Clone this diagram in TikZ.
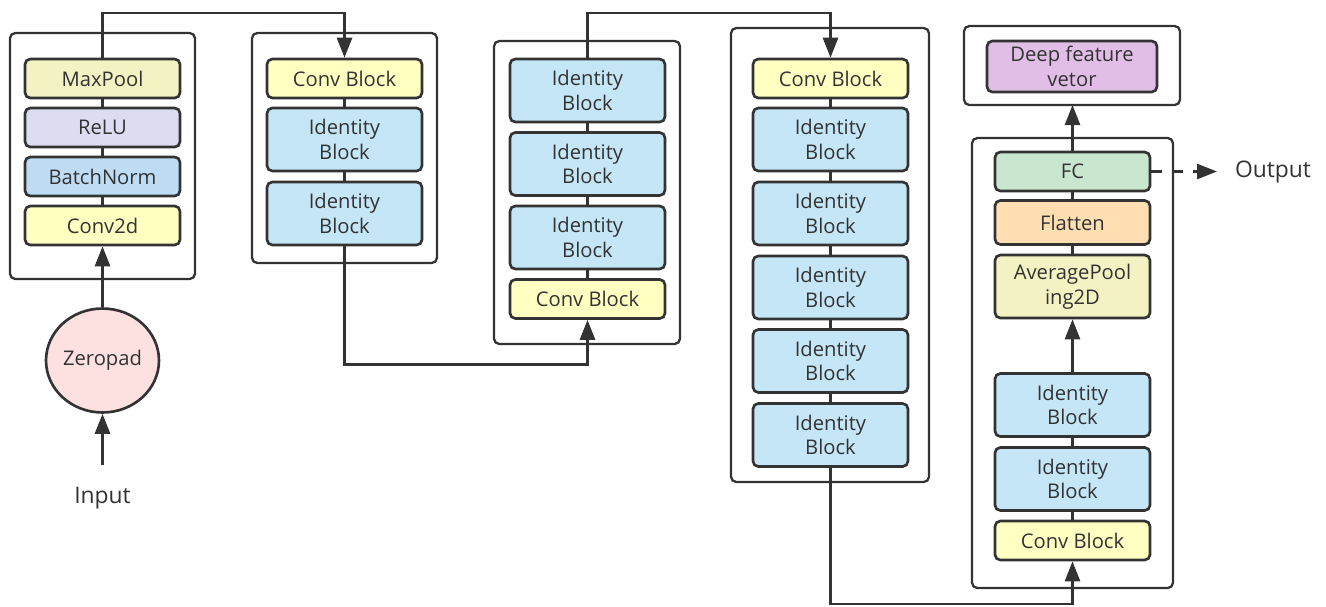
\documentclass[tikz,border=0pt]{standalone}
\usepackage{fontspec}
\setmainfont{Open Sans}
\usetikzlibrary{arrows.meta,shapes.geometric}
\definecolor{lc}{HTML}{333333}
\definecolor{cpool}{HTML}{F2F2C2}
\definecolor{crelu}{HTML}{DDDDF2}
\definecolor{cbn}{HTML}{BEDDF5}
\definecolor{cconv}{HTML}{FFFFC2}
\definecolor{cid}{HTML}{C4E6F6}
\definecolor{cfc}{HTML}{C9E7CE}
\definecolor{cflat}{HTML}{FFDFB2}
\definecolor{cdeep}{HTML}{E0BEE6}
\definecolor{czero}{HTML}{FDE0E0}
\tikzset{
    blk/.style={draw=lc, line width=1.5pt, rounded corners=3pt, minimum width=3.1cm,
        minimum height=0.78cm, align=center, text=lc, inner sep=1pt,
        font=\fontsize{11.5}{14}\selectfont},
    idb/.style={blk, fill=cid, minimum height=1.26cm},
    cvb/.style={blk, fill=cconv},
    grp/.style={draw=lc, line width=1.3pt, rounded corners=3pt},
    lnk/.style={draw=lc, line width=1.5pt},
    arr/.style={lnk, -{Triangle[length=0.4cm,width=0.3cm]}},
    lbl/.style={text=lc, font=\fontsize{13}{15}\selectfont}
}
\begin{document}
\begin{tikzpicture}[x=0.02cm, y=-0.02cm]
    \useasboundingbox (0,0) rectangle (1326,606);

    \foreach \xa/\ya/\xb/\yb in
        {10/33/195/279, 252/33/437/263, 494/41/680/344,
        731/28/929/482, 972/138/1173/588, 964/26/1180/105}
        {
            \draw[grp] (\xa,\ya) rectangle (\xb,\yb);
        }

    % stem
    \node[blk, fill=cpool] (mp) at (102.5,78.5) {MaxPool};
    \node[blk, fill=crelu] (relu) at (102.5,127.5) {ReLU};
    \node[blk, fill=cbn] (bn) at (102.5,176.5) {BatchNorm};
    \node[cvb] (c2d) at (102.5,225.5) {Conv2d};
    \node[ellipse, draw=lc, line width=1.5pt, fill=czero, inner sep=0pt,
        minimum width=2.26cm, minimum height=2.08cm, text=lc,
        font=\fontsize{11.5}{14}\selectfont]
        (zp) at (102.5,360.5) {Zeropad};
    \node[lbl] (inp) at (102.5,498) {Input};
    \coordinate (in0) at (102.5,465);

    % stages
    \node[cvb] (cb2) at (344.5,78.5) {Conv Block};
    \foreach \i/\y in {1/139.5, 2/213.5}
        \node[idb] (b\i) at (344.5,\y) {Identity\\Block};

    \foreach \i/\y in {1/90.5, 2/164, 3/237.5}
        \node[idb] (c\i) at (587.5,\y) {Identity\\Block};
    \node[cvb] (cb3) at (587.5,299) {Conv Block};

    \node[cvb] (cb4) at (830.5,78.5) {Conv Block};
    \foreach \i/\y in {1/139.5, 2/213.5, 3/287.5, 4/361, 5/435}
        \node[idb] (d\i) at (830.5,\y) {Identity\\Block};

    \node[blk, fill=cfc] (fc) at (1072.5,171.5) {FC};
    \node[blk, fill=cflat, minimum height=0.88cm] (flat) at (1072.5,222.5) {Flatten};
    \node[blk, fill=cpool, minimum height=1.26cm] (avg) at (1072.5,286.5) {AveragePool\\ing2D};
    \foreach \i/\y in {1/405, 2/479}
        \node[idb] (e\i) at (1072.5,\y) {Identity\\Block};
    \node[cvb] (cb5) at (1072.5,540.5) {Conv Block};

    \node[blk, fill=cdeep, minimum width=3.4cm, minimum height=1.02cm]
        (deep) at (1072,66.5) {Deep feature\\vetor};
    \node[lbl] (out) at (1273,171.5) {Output};

    % links
    \foreach \a/\b in {mp/relu, relu/bn, bn/c2d, cb2/b1, b1/b2, c1/c2, c2/c3, c3/cb3,
        cb4/d1, d1/d2, d2/d3, d3/d4, d4/d5, fc/flat, flat/avg, e1/e2, e2/cb5}
        \draw[lnk] (\a.south) -- (\b.north);

    \coordinate (t1) at (344.5,13);
    \coordinate (t2) at (344.5,364.5);
    \coordinate (t3) at (830.5,13);
    \coordinate (t4) at (830.5,604);
    \coordinate (t5) at (1072.5,105);
    \coordinate (o1) at (1217,171.5);

    \draw[arr] (in0) -- (zp.south);
    \draw[arr] (zp.north) -- (c2d.south);
    \draw[arr] (mp.north) |- (t1) -- (cb2.north);
    \draw[arr] (b2.south) -- (t2) -| (cb3.south);
    \draw[arr] (c1.north) |- (t3) -- (cb4.north);
    \draw[arr] (d5.south) -- (t4) -| (cb5.south);
    \draw[arr] (e1.north) -- (avg.south);
    \draw[arr] (fc.north) -- (t5);
    \draw[arr, dash pattern=on 6pt off 6pt] (fc.east) -- (o1);

\end{tikzpicture}
\end{document}
